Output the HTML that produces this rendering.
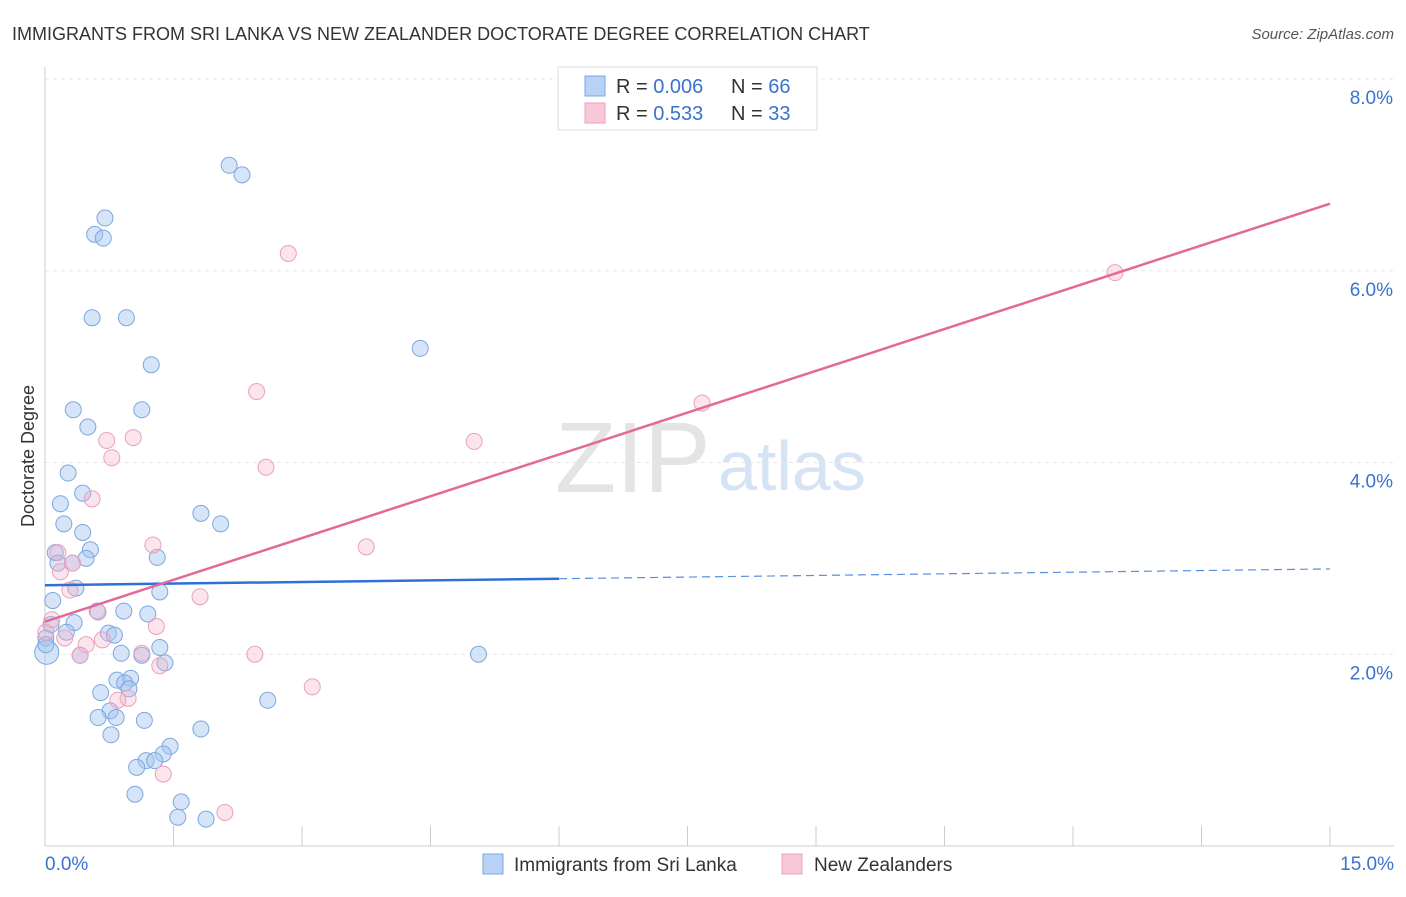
<!DOCTYPE html>
<html><head><meta charset="utf-8"><style>
body{margin:0;background:#fff;font-family:"Liberation Sans",sans-serif;}
svg text{font-family:"Liberation Sans",sans-serif;}
</style></head><body>
<svg id="c" width="1406" height="892" xmlns="http://www.w3.org/2000/svg">
<text x="12" y="40" font-size="18" fill="#333">IMMIGRANTS FROM SRI LANKA VS NEW ZEALANDER DOCTORATE DEGREE CORRELATION CHART</text>
<text x="1394" y="39" font-size="15" fill="#555" font-style="italic" text-anchor="end">Source: ZipAtlas.com</text>
<text x="34" y="456" font-size="18" fill="#333" text-anchor="middle" transform="rotate(-90 34 456)">Doctorate Degree</text>
<text x="555" y="492" font-size="100" fill="#e4e4e4" font-family="Liberation Serif">ZIP</text>
<text x="718" y="490" font-size="70" fill="#d6e3f5">atlas</text>
<g id="grid"></g><g id="pts"></g><g id="lines"></g>
<g>
<rect x="558" y="67" width="259" height="63" fill="#fff" stroke="#ddd"/>
<rect x="585" y="76" width="20" height="20" fill="#b8d2f5" stroke="#7ba7e0"/>
<rect x="585" y="103" width="20" height="20" fill="#f8c8d8" stroke="#eaa0bb"/>
<text x="616" y="93" font-size="20" fill="#333">R = <tspan fill="#3a72d0">0.006</tspan></text>
<text x="731" y="93" font-size="20" fill="#333">N = <tspan fill="#3a72d0">66</tspan></text>
<text x="616" y="120" font-size="20" fill="#333">R =  <tspan fill="#3a72d0">0.533</tspan></text>
<text x="731" y="120" font-size="20" fill="#333">N = <tspan fill="#3a72d0">33</tspan></text>
</g>
<g>
<rect x="483" y="854" width="20" height="20" fill="#b8d2f5" stroke="#7ba7e0"/>
<text x="514" y="871" font-size="19" fill="#333">Immigrants from Sri Lanka</text>
<rect x="782" y="854" width="20" height="20" fill="#f8c8d8" stroke="#eaa0bb"/>
<text x="814" y="871" font-size="19" fill="#333">New Zealanders</text>
</g>
</svg>
<script>
const xTicks=[0,1.5,3,4.5,6,7.5,9,10.5,12,13.5,15];
const yTicks=[2,4,6,8];
const blueX=[0.70,0.58,0.68,2.15,2.30,0.55,0.95,1.24,4.38,0.33,1.13,0.50,0.27,0.44,0.18,1.82,2.05,0.22,0.44,0.53,0.12,1.31,0.48,0.15,0.32,0.36,1.34,0.09,0.61,0.92,1.20,0.34,0.07,0.25,0.74,0.81,0.01,0.02,1.34,0.89,1.13,0.41,1.40,5.06,0.84,1.00,0.93,0.98,0.65,2.60,0.76,0.62,0.83,1.16,1.82,0.77,1.46,1.38,1.18,1.28,1.07,1.05,1.59,1.55,1.88,0.01];
const blueY=[6.55,6.38,6.34,7.10,7.00,5.51,5.51,5.02,5.19,4.55,4.55,4.37,3.89,3.68,3.57,3.47,3.36,3.36,3.27,3.09,3.06,3.01,3.00,2.95,2.95,2.69,2.65,2.56,2.45,2.45,2.42,2.33,2.31,2.23,2.22,2.20,2.17,2.02,2.07,2.01,1.99,1.99,1.91,2.00,1.73,1.75,1.70,1.64,1.60,1.52,1.41,1.34,1.34,1.31,1.22,1.16,1.04,0.96,0.89,0.89,0.82,0.54,0.46,0.30,0.28,2.10];
const pinkX=[2.84,12.49,2.47,7.67,0.72,1.03,5.01,0.78,2.58,0.55,1.26,3.75,0.15,0.32,0.18,1.81,0.29,0.62,1.30,0.01,0.23,0.67,0.48,0.41,2.45,1.13,1.34,3.12,0.97,0.85,1.38,2.10,0.08];
const pinkY=[6.18,5.98,4.74,4.62,4.23,4.26,4.22,4.05,3.95,3.62,3.14,3.12,3.06,2.95,2.86,2.60,2.67,2.44,2.29,2.23,2.17,2.15,2.10,1.99,2.00,2.01,1.88,1.66,1.54,1.52,0.75,0.35,2.36];
const blueFit=[2.72,2.89];
const pinkFit=[2.34,6.70];
const NS="http://www.w3.org/2000/svg";
const X=v=>45+v*(1330-45)/15, Y=v=>846-v*95.875;
function mk(t,a,p){const e=document.createElementNS(NS,t);for(const k in a)e.setAttribute(k,a[k]);document.getElementById(p).appendChild(e);return e;}
yTicks.forEach(t=>{
 const l=mk('line',{x1:45,x2:1394,y1:Y(t),y2:Y(t),stroke:'#e6e6e6','stroke-dasharray':'4,4'},'grid');
 
 
 const tx=mk('text',{x:1393,y:Y(t)+25,'font-size':19,fill:'#3a72d0','text-anchor':'end'},'grid');tx.textContent=t.toFixed(1)+'%';
 
 
});
const ax=mk('line',{x1:45,x2:1394,y1:846,y2:846,stroke:'#ccc'},'grid');


const ay=mk('line',{x1:45,x2:45,y1:67,y2:846,stroke:'#ccc'},'grid');


xTicks.forEach((t,i)=>{if(i==0)return;
 const l=mk('line',{x1:X(t),x2:X(t),y1:826,y2:846,stroke:'#ccc'},'grid');
 
 
});
const x0=mk('text',{x:45,y:870,'font-size':19,fill:'#3a72d0'},'grid');x0.textContent='0.0%';


const x1=mk('text',{x:1394,y:870,'font-size':19,fill:'#3a72d0','text-anchor':'end'},'grid');x1.textContent='15.0%';


blueX.forEach((v,i)=>{
 const c=mk('circle',{cx:X(v),cy:Y(blueY[i]),r:i==37?12:8,fill:'rgba(164,196,240,0.45)',stroke:'#7ba7e0','stroke-width':1},'pts');
 
 
});
pinkX.forEach((v,i)=>{
 const c=mk('circle',{cx:X(v),cy:Y(pinkY[i]),r:8,fill:'rgba(244,178,200,0.35)',stroke:'#eaa0bb','stroke-width':1},'pts');
 
 
});
const bf=v=>blueFit[0]+(blueFit[1]-blueFit[0])*v/15;
const b1=mk('line',{x1:X(0),y1:Y(bf(0)),x2:X(6),y2:Y(bf(6)),stroke:'#2f6fd6','stroke-width':2.5},'lines');


const b2=mk('line',{x1:X(6),y1:Y(bf(6)),x2:X(15),y2:Y(bf(15)),stroke:'#5a8ee0','stroke-width':1.2,'stroke-dasharray':'8,5'},'lines');


const p1=mk('line',{x1:X(0),y1:Y(pinkFit[0]),x2:X(15),y2:Y(pinkFit[1]),stroke:'#e4689a','stroke-width':2.5},'lines');


</script>
</body></html>
